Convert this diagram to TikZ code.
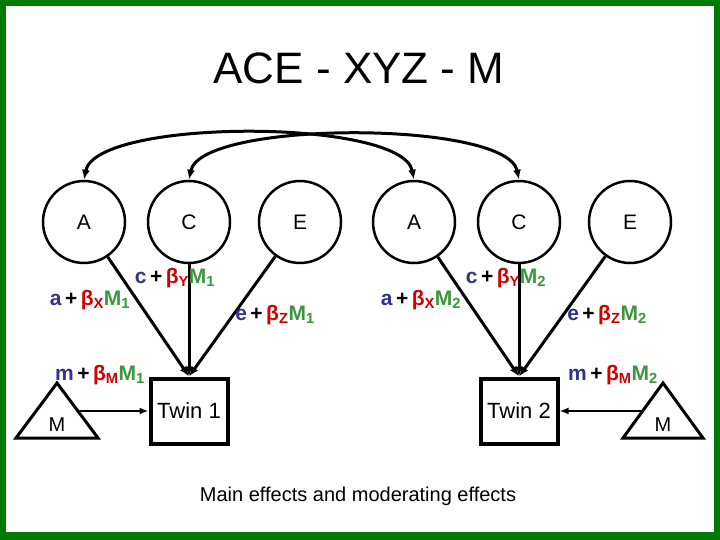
\documentclass[tikz,border=0pt]{standalone}
\usepackage{fontspec}
\setmainfont{Liberation Sans}
\usetikzlibrary{arrows.meta}
\definecolor{bordergreen}{RGB}{0,122,0}
\definecolor{pblue}{RGB}{51,51,140}
\definecolor{pred}{RGB}{210,0,0}
\definecolor{pgreen}{RGB}{60,150,60}
\newcommand\efflab[3]{\bfseries{\color{pblue}#1}\,+\,{\color{pred}β\textsubscript{#2}}{\color{pgreen}M\textsubscript{#3}}}
\begin{document}
\begin{tikzpicture}[x=1pt,y=-1pt,
  latent/.style={circle,draw,line width=2.5pt,minimum size=82pt,inner sep=0pt,font=\fontsize{21}{24}\selectfont},
  twin/.style={rectangle,draw,line width=4pt,minimum width=77pt,minimum height=65pt,inner sep=0pt,font=\fontsize{22}{26}\selectfont},
  conn/.style={line width=3pt,-{Latex[length=10pt,width=8pt]}},
  mconn/.style={line width=2pt,-{Latex[length=9pt,width=7pt]}},
  cov/.style={line width=3pt,{Latex[length=10pt,width=8pt]}-{Latex[length=10pt,width=8pt]}},
  tri/.style={line width=3pt,line join=miter},
  lab/.style={font=\fontsize{21}{24}\selectfont,inner sep=0pt},
  plain/.style={inner sep=0pt}]
\useasboundingbox (0,0) rectangle (720,540);
\fill[bordergreen] (0,0) rectangle (720,540);
\fill[white] (6,6) rectangle (714,532);

\node[plain,font=\fontsize{44}{50}\selectfont] (title) at (359,68) {ACE - XYZ - M};

\node[latent] (A1) at (84,222) {A};
\node[latent] (C1) at (189,222) {C};
\node[latent] (E1) at (300,222) {E};
\node[latent] (A2) at (414,222) {A};
\node[latent] (C2) at (519,222) {C};
\node[latent] (E2) at (630,222) {E};

\node[twin] (T1) at (189,411) {Twin 1};
\node[twin] (T2) at (519,411) {Twin 2};

\draw[conn] (A1) -- (T1.north);
\draw[conn] (C1) -- (T1.north);
\draw[conn] (E1) -- (T1.north);
\draw[conn] (A2) -- (T2.north);
\draw[conn] (C2) -- (T2.north);
\draw[conn] (E2) -- (T2.north);

\draw[cov] (A1.north) .. controls (96,118) and (402,118) .. (A2.north);
\draw[cov] (C1.north) .. controls (201,120) and (507,120) .. (C2.north);

% moderator triangles
\draw[tri] (57,383) -- (98,438) -- (16,438) -- cycle;
\node[plain,font=\fontsize{20}{24}\selectfont] (M1) at (57,425) {M};
\coordinate (m1out) at (78,411);
\draw[tri] (663,383) -- (703,438) -- (623,438) -- cycle;
\node[plain,font=\fontsize{20}{24}\selectfont] (M2) at (663,425) {M};
\coordinate (m2out) at (642,411);
\draw[mconn] (m1out) -- (T1.west);
\draw[mconn] (m2out) -- (T2.east);

% labels
\node[lab] (la1) at (90,300) {\efflab{a}{X}{1}};
\node[lab] (lc1) at (175,278) {\efflab{c}{Y}{1}};
\node[lab] (le1) at (275,315) {\efflab{e}{Z}{1}};
\node[lab] (la2) at (421,300) {\efflab{a}{X}{2}};
\node[lab] (lc2) at (506,278) {\efflab{c}{Y}{2}};
\node[lab] (le2) at (607,315) {\efflab{e}{Z}{2}};
\node[lab] (lm1) at (100,375) {\efflab{m}{M}{1}};
\node[lab] (lm2) at (613,375) {\efflab{m}{M}{2}};

\node[plain,font=\fontsize{20}{23}\selectfont] (cap) at (358,496) {Main effects and moderating effects};
\end{tikzpicture}
\end{document}
